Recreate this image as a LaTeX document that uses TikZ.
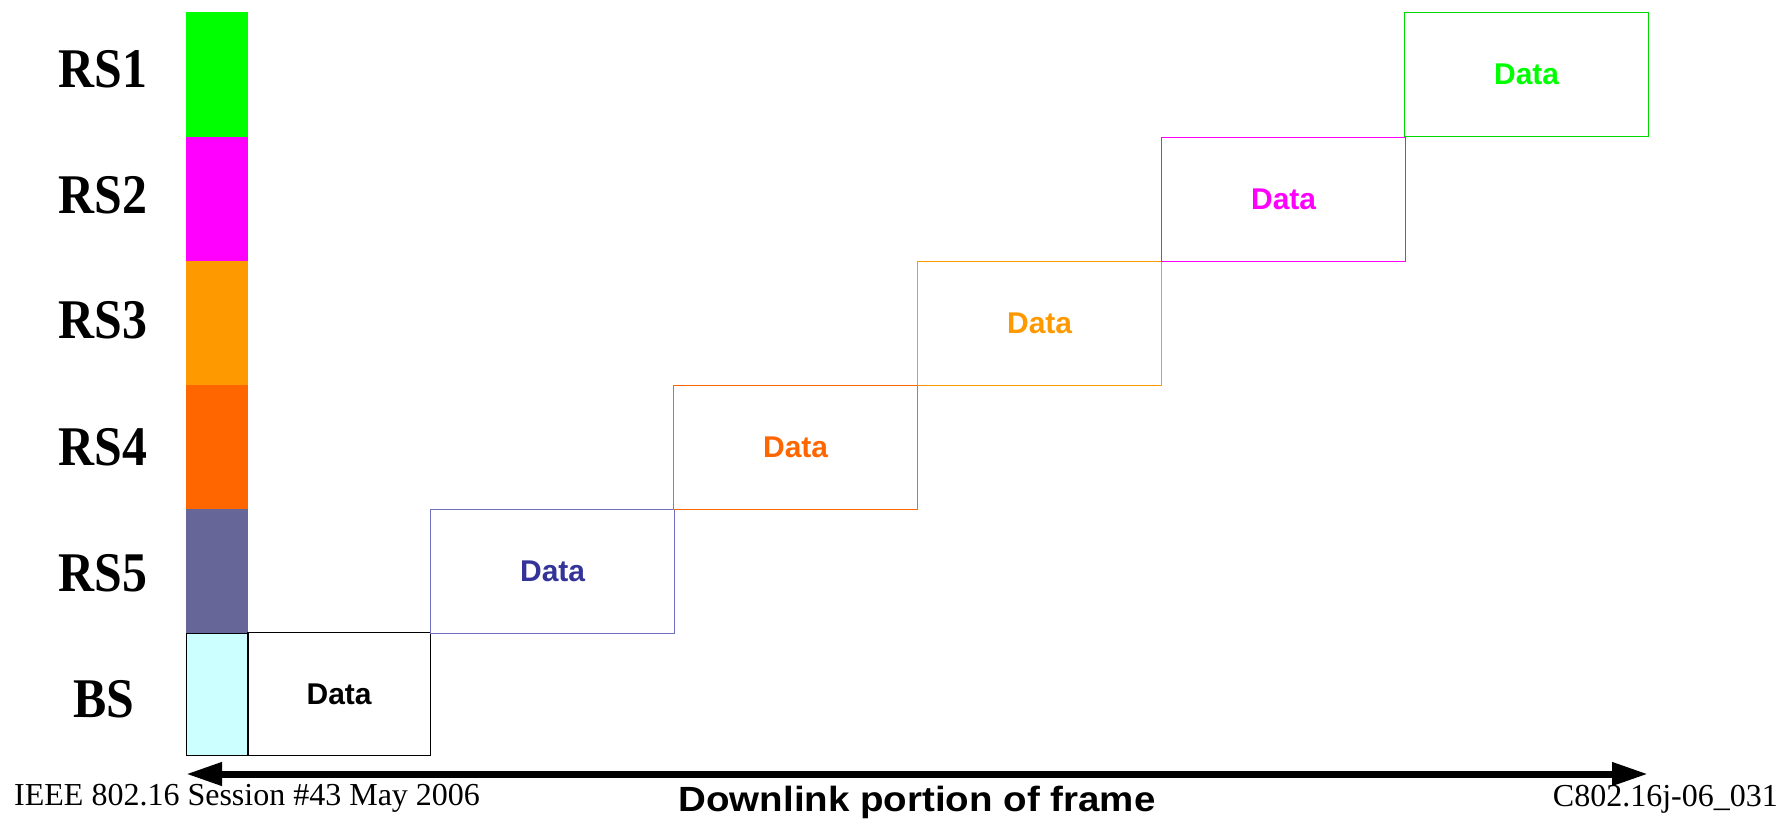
\documentclass[tikz,border=0pt]{standalone}
\usepackage{fontspec}
\setmainfont{Liberation Serif}
\newfontfamily\rsfont[FakeStretch=0.89]{Liberation Serif}
\newfontfamily\arialfont{Liberation Sans}
\newfontfamily\arialwide[FakeStretch=1.1]{Liberation Sans}
\usetikzlibrary{arrows.meta}
\definecolor{cRSone}{HTML}{00FF00}
\definecolor{cRStwo}{HTML}{FF00FF}
\definecolor{cRSthree}{HTML}{FF9900}
\definecolor{cRSfour}{HTML}{FF6600}
\definecolor{cRSfive}{HTML}{666699}
\definecolor{cRSfivetext}{HTML}{333399}
\definecolor{cRSfiveline}{HTML}{7070C0}
\definecolor{cBS}{HTML}{CCFFFF}
\tikzset{
  cell/.style={rectangle, anchor=north west, inner sep=0pt, minimum width=62pt},
  databox/.style={rectangle, anchor=north west, inner sep=0pt, minimum width=244pt, line width=1.2pt,
    font=\arialfont\bfseries\fontsize{30}{36}\selectfont},
  rslabel/.style={anchor=base, inner sep=0pt, font=\rsfont\bfseries\fontsize{56}{60}\selectfont},
  foot/.style={inner sep=0pt, font=\fontsize{32}{36}\selectfont},
}
\begin{document}
\begin{tikzpicture}[x=1pt,y=-1pt]
\useasboundingbox (0,0) rectangle (1791,824);
% colour bar
\node[cell, fill=cRSone, minimum height=125pt] (c1) at (186,12) {};
\node[cell, fill=cRStwo, minimum height=124pt] (c2) at (186,137) {};
\node[cell, fill=cRSthree, minimum height=124pt] (c3) at (186,261) {};
\node[cell, fill=cRSfour, minimum height=124pt] (c4) at (186,385) {};
\node[cell, fill=cRSfive, minimum height=124pt] (c5) at (186,509) {};
\node[cell, fill=cBS, draw=black, line width=1.2pt, minimum height=122pt] (c6) at (186,633) {};
% data boxes
\node[databox, draw=black, text=black, minimum width=183pt, minimum height=123pt] (dbs) at (247,632) {Data};
\node[databox, draw=cRSfiveline, text=cRSfivetext, minimum height=124pt] (d5) at (430,509) {Data};
\node[databox, draw=cRSfour, text=cRSfour, minimum height=124pt] (d4) at (673,385) {Data};
\node[databox, draw=cRSthree, text=cRSthree, minimum height=124pt] (d3) at (917,261) {Data};
\node[databox, draw=cRStwo, text=cRStwo, minimum height=124pt] (d2) at (1161,137) {Data};
\node[databox, draw=cRSone!85!black, text=cRSone, minimum height=124pt] (d1) at (1404,12) {Data};
% row labels
\node[rslabel] (l1) at (103,88) {RS1};
\node[rslabel] (l2) at (103,213) {RS2};
\node[rslabel] (l3) at (103,338) {RS3};
\node[rslabel] (l4) at (103,465) {RS4};
\node[rslabel] (l5) at (103,591) {RS5};
\node[rslabel] (l6) at (104,717) {BS};
% arrow
\coordinate (aL) at (186,774);
\coordinate (aR) at (1648,774);
\draw[line width=7pt, {Triangle[length=36pt,width=22pt]}-{Triangle[length=36pt,width=22pt]}] (aL) -- (aR);
% texts
\node[foot, anchor=base west] (f1) at (14,805) {IEEE 802.16 Session \#43 May 2006};
\node[foot, anchor=base east] (f2) at (1778,806) {C802.16j-06\_031};
\node[anchor=base, inner sep=0pt, font=\arialwide\bfseries\fontsize{35}{40}\selectfont] (f3) at (917,811) {Downlink portion of frame};
\end{tikzpicture}
\end{document}
